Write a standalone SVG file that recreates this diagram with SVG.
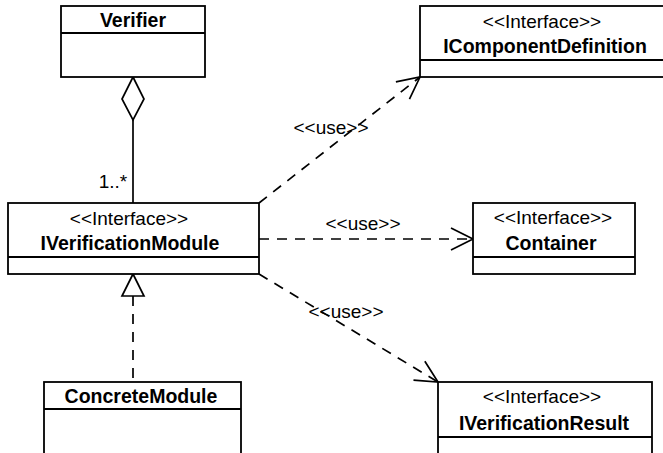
<svg xmlns="http://www.w3.org/2000/svg" width="663" height="453" viewBox="0 0 663 453">
<style>
.box{fill:#fff;stroke:#000;stroke-width:1.8}
.div{stroke:#000;stroke-width:1.8}
.t{font-family:"Liberation Sans",Arial,sans-serif;font-size:19px;fill:#000;text-anchor:middle}
.b{font-weight:bold;font-size:19.5px}
.c{fill:none;stroke:#000;stroke-width:1.7}
.d{stroke-dasharray:10 8}
</style>
<defs>
<marker id="open" markerUnits="userSpaceOnUse" markerWidth="30" markerHeight="30" viewBox="-26 -15 30 30" refX="0" refY="0" orient="auto">
<path d="M-22,-11 L0,0 L-22,11" fill="none" stroke="#000" stroke-width="1.7"/>
</marker>
</defs>
<rect width="663" height="453" fill="#fff"/>
<g id="connectors">
<line class="c" x1="133" y1="120" x2="133" y2="203"/>
<polygon class="c" points="133,77 144,99 133,120 122,99" fill="#fff"/>
<text class="t" x="113" y="188">1..*</text>
<line class="c d" x1="133" y1="296" x2="133" y2="382"/>
<polygon class="c" points="133,274 144,296 122,296" fill="#fff"/>
<line class="c d" x1="259" y1="203" x2="420" y2="77" marker-end="url(#open)"/>
<text class="t" x="331" y="134">&lt;&lt;use&gt;&gt;</text>
<line class="c d" x1="259" y1="239" x2="473" y2="239" marker-end="url(#open)"/>
<text class="t" x="363" y="230">&lt;&lt;use&gt;&gt;</text>
<line class="c d" x1="259" y1="274" x2="438" y2="382" marker-end="url(#open)"/>
<text class="t" x="346" y="318">&lt;&lt;use&gt;&gt;</text>
</g>
<g id="Verifier">
<rect class="box" x="61" y="6" width="144" height="71"/>
<line class="div" x1="61" y1="33" x2="205" y2="33"/>
<text class="t b" x="133" y="27">Verifier</text>
</g>
<g id="IVerificationModule">
<rect class="box" x="8" y="203" width="251" height="71"/>
<line class="div" x1="8" y1="257" x2="259" y2="257"/>
<text class="t" x="129" y="225">&lt;&lt;Interface&gt;&gt;</text>
<text class="t b" x="130" y="250">IVerificationModule</text>
</g>
<g id="ConcreteModule">
<rect class="box" x="44" y="382" width="197" height="80"/>
<line class="div" x1="44" y1="409" x2="241" y2="409"/>
<text class="t b" x="141" y="403">ConcreteModule</text>
</g>
<g id="IComponentDefinition">
<rect class="box" x="420" y="6" width="260" height="71"/>
<line class="div" x1="420" y1="60" x2="680" y2="60"/>
<text class="t" x="542" y="28">&lt;&lt;Interface&gt;&gt;</text>
<text class="t b" x="545" y="53">IComponentDefinition</text>
</g>
<g id="Container">
<rect class="box" x="473" y="203" width="162" height="71"/>
<line class="div" x1="473" y1="257" x2="635" y2="257"/>
<text class="t" x="553" y="224">&lt;&lt;Interface&gt;&gt;</text>
<text class="t b" x="551" y="250">Container</text>
</g>
<g id="IVerificationResult">
<rect class="box" x="438" y="382" width="214" height="80"/>
<line class="div" x1="438" y1="437" x2="652" y2="437"/>
<text class="t" x="542" y="403">&lt;&lt;Interface&gt;&gt;</text>
<text class="t b" x="544" y="430">IVerificationResult</text>
</g>
</svg>
